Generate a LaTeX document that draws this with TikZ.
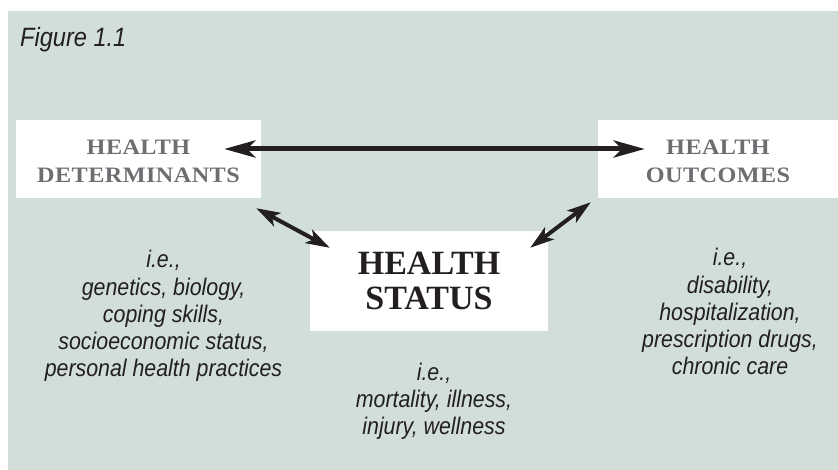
\documentclass[tikz,border=0pt]{standalone}
\usepackage{fontspec}
\setmainfont{Liberation Serif}
\setsansfont{Liberation Sans}[FakeStretch=0.89]
\newfontfamily\capsfont{Liberation Serif}[FakeStretch=1.1, LetterSpace=2]
\usetikzlibrary{arrows.meta}
\definecolor{panel}{HTML}{D1DFD8}
\definecolor{capgray}{HTML}{6D6E71}
\definecolor{ink}{HTML}{231F20}

\begin{document}
\begin{tikzpicture}
[x=1pt, y=1pt, inner sep=0pt,
box/.style={fill=white, minimum height=78pt},
side/.style={box, text=capgray, align=center, text height=48pt, text depth=0pt,
  font=\capsfont\bfseries\fontsize{22}{28}\selectfont},
list/.style={text=ink, align=center, anchor=base, font=\sffamily\itshape\fontsize{24}{27.3}\selectfont}
]

\useasboundingbox (0,0) rectangle (838,470);
\fill[panel] (8,0) rectangle (838,459);

\node[anchor=base west, text=ink, font=\sffamily\itshape\fontsize{26.5}{30}\selectfont] (fig) at (20,423) {Figure 1.1};

% the three boxes
\node[side, minimum width=245pt] (det) at (138.5,311) {HEALTH\\DETERMINANTS};
\node[side, minimum width=240pt] (out) at (718,311) {HEALTH\\OUTCOMES};
\node[box, minimum width=238pt, minimum height=100pt, text=ink, align=center,
  font=\bfseries\fontsize{34}{35}\selectfont] (stat) at (429,189) {HEALTH\\STATUS};

% examples under each box (base sits on the last line)
\node[list] (detlist) at (163.5,93) {i.e.,\\genetics, biology,\\coping skills,\\socioeconomic status,\\personal health practices};
\node[list] (statlist) at (434,35) {i.e.,\\mortality, illness,\\injury, wellness};
\node[list] (outlist) at (730,95) {i.e.,\\disability,\\hospitalization,\\prescription drugs,\\chronic care};

% links
\begin{scope}[color=ink, line width=5pt, >={Stealth[length=31pt, width=17pt, inset=8pt]}]
\draw[<->] ([xshift=-37pt, yshift=10pt]det.east) -- ([xshift=47pt, yshift=10pt]out.west);
\end{scope}
\begin{scope}[color=ink, line width=4pt, >={Stealth[length=24pt, width=15pt, inset=6pt]}]
\draw[<->] ([xshift=-5pt, yshift=-10pt]det.south east) -- ([xshift=20pt, yshift=-17pt]stat.north west);
\draw[<->] ([xshift=-18pt, yshift=-17pt]stat.north east) -- ([xshift=-7pt, yshift=-4pt]out.south west);
\end{scope}

\end{tikzpicture}
\end{document}
